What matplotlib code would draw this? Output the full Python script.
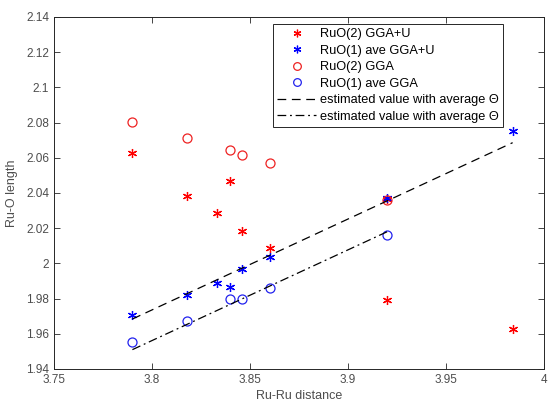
import matplotlib
matplotlib.use("Agg")
import matplotlib.pyplot as plt
from matplotlib.ticker import FuncFormatter

# Data
x_ruo2_u = [3.790, 3.818, 3.833, 3.840, 3.846, 3.860, 3.920, 3.920, 3.984]
y_ruo2_u = [2.0627, 2.0383, 2.0286, 2.0468, 2.0184, 2.0088, 2.0366, 1.9792, 1.9625]

x_ruo1_u = [3.790, 3.818, 3.833, 3.840, 3.846, 3.860, 3.920, 3.984]
y_ruo1_u = [1.9705, 1.9822, 1.9889, 1.9866, 1.9968, 2.0036, 2.0370, 2.0752]

x_ruo2 = [3.790, 3.818, 3.840, 3.846, 3.860, 3.920]
y_ruo2 = [2.0803, 2.0713, 2.0644, 2.0616, 2.0572, 2.0362]

x_ruo1 = [3.790, 3.818, 3.840, 3.846, 3.860, 3.920]
y_ruo1 = [1.9555, 1.9670, 1.9798, 1.9798, 1.9858, 2.0164]

est_u_x = [3.790, 3.984]
est_u_y = [1.9684, 2.0686]
est_x = [3.790, 3.920]
est_y = [1.9510, 2.0180]

labels = ["RuO(2) GGA+U", "RuO(1) ave GGA+U", "RuO(2) GGA", "RuO(1) ave GGA",
          "estimated value with average \u0398", "estimated value with average \u0398"]

xticks = [3.75, 3.8, 3.85, 3.9, 3.95, 4.0]
yticks = [1.94, 1.96, 1.98, 2.0, 2.02, 2.04, 2.06, 2.08, 2.1, 2.12, 2.14]

plt.rcParams['font.family'] = ['Liberation Sans', 'DejaVu Sans']
axc = (0.15, 0.15, 0.15)
lblc = (0.3, 0.3, 0.3)

fig = plt.figure(figsize=(5.48, 4.04), dpi=100)
ax = fig.add_axes([54/548, 1-369/404, (544-54)/548, (369-17)/404])

ax.plot(x_ruo2_u, y_ruo2_u, ls='none', marker=(6, 2, 0), ms=6.5, mew=0.9, color='red', label=labels[0])
ax.plot(x_ruo1_u, y_ruo1_u, ls='none', marker=(6, 2, 0), ms=6.5, mew=0.9, color='blue', label=labels[1])
ax.plot(x_ruo2, y_ruo2, ls='none', marker='o', ms=6.5, mew=0.9, mfc='none', color='#ee2222', label=labels[2])
ax.plot(x_ruo1, y_ruo1, ls='none', marker='o', ms=6.5, mew=0.9, mfc='none', color='#2222ee', label=labels[3])
ax.plot(est_u_x, est_u_y, color='black', lw=0.9, ls=(0, (7, 4.5)), label=labels[4])
ax.plot(est_x, est_y, color='black', lw=0.9, ls=(0, (7, 3, 1.5, 3)), label=labels[5])

ax.set_xlim(3.75, 4.0)
ax.set_ylim(1.94, 2.14)
ax.set_xticks(xticks)
ax.set_yticks(yticks)
ax.xaxis.set_major_formatter(FuncFormatter(lambda v, p: f"{v:g}"))
ax.yaxis.set_major_formatter(FuncFormatter(lambda v, p: f"{v:g}"))
ax.tick_params(direction='in', length=4, width=0.6, colors=axc, labelsize=8.5,
               top=True, right=True, labelcolor=lblc)
for s in ax.spines.values():
    s.set_color(axc)
    s.set_linewidth(0.7)

ax.set_xlabel("Ru-Ru distance", fontsize=9, color=lblc, labelpad=3)
ax.set_ylabel("Ru-O length", fontsize=9, color=lblc, labelpad=6)

leg = ax.legend(loc='upper left', bbox_to_anchor=(273/548, 1-24/404),
                bbox_transform=fig.transFigure, borderaxespad=0, fontsize=9.2,
                frameon=True, fancybox=False, framealpha=1, edgecolor=axc,
                handlelength=3.0, handletextpad=0.3, labelspacing=0.35,
                borderpad=0.35, markerscale=0.85)
leg.get_frame().set_linewidth(0.7)
for t in leg.get_texts():
    t.set_color('black')

fig.savefig("out.png", dpi=100, facecolor='white')
